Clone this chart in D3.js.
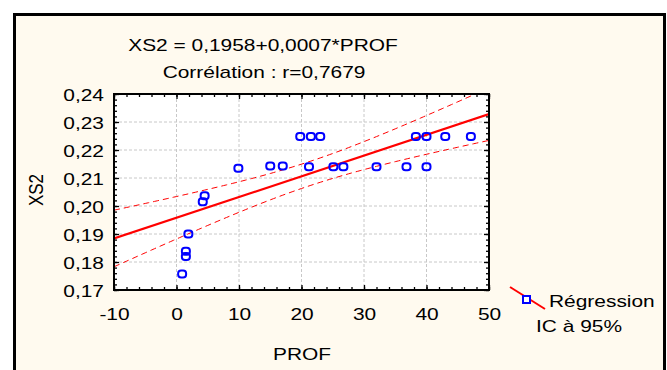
<!DOCTYPE html>
<html>
<head>
<meta charset="utf-8">
<script src="https://cdn.jsdelivr.net/npm/d3@7"></script>
<style>
  body { margin: 0; background: #ffffff; }
  svg { display: block; font-family: "Liberation Sans", Arial, sans-serif; }
</style>
</head>
<body>
<svg id="chart"></svg>
<script>
// data
const prof = [0.9, 1.5, 1.5, 1.9, 4.2, 4.5, 9.9, 15.0, 17.0, 19.8, 21.5, 23.0,
              21.2, 25.1, 26.7, 32.0, 36.8, 40.0, 38.3, 40.0, 43.0, 47.1];
const xs2 = [0.1757, 0.1820, 0.1838, 0.1900, 0.2015, 0.2037, 0.2135, 0.2143, 0.2143, 0.2248, 0.2248, 0.2248,
             0.2140, 0.2140, 0.2140, 0.2140, 0.2140, 0.2140, 0.2248, 0.2248, 0.2248, 0.2248];
const fitIntercept = 0.1958;
const fitSlope = 0.00074;
const xTicks = [-10, 0, 10, 20, 30, 40, 50];
const yTicks = [0.17, 0.18, 0.19, 0.20, 0.21, 0.22, 0.23, 0.24];
const titleLines = ["XS2 = 0,1958+0,0007*PROF", "Corrélation : r=0,7679"];
const legendLabels = ["Régression", "IC à 95%"];

const W = 667, H = 370;
const SX = 1.23; // the picture is stretched sideways
const FS = 17;
const svg = d3.select("#chart").attr("width", W).attr("height", H);

// outer panel
svg.append("rect").attr("x", 14.5).attr("y", 14.5).attr("width", 650).attr("height", 370)
  .attr("fill", "#fffaef").attr("stroke", "#000").attr("stroke-width", 3);

const plot = { left: 114, right: 489, top: 94, bottom: 290 };
const x = d3.scaleLinear().domain([-10, 50]).range([plot.left, plot.right]);
const y = d3.scaleLinear().domain([0.17, 0.24]).range([plot.bottom, plot.top]);

svg.append("rect").attr("x", plot.left).attr("y", plot.top)
  .attr("width", plot.right - plot.left).attr("height", plot.bottom - plot.top)
  .attr("fill", "#fff");

// grid
const grid = svg.append("g").attr("stroke", "#c8c8c8").attr("stroke-dasharray", "3,2");
grid.selectAll(".gx").data(xTicks.slice(1, -1)).enter().append("line")
  .attr("x1", d => x(d)).attr("x2", d => x(d)).attr("y1", plot.top).attr("y2", plot.bottom);
grid.selectAll(".gy").data(yTicks.slice(1, -1)).enter().append("line")
  .attr("x1", plot.left).attr("x2", plot.right).attr("y1", d => y(d)).attr("y2", d => y(d));

// regression and confidence band
const n = prof.length;
const xbar = d3.mean(prof), ybar = d3.mean(xs2);
const sxx = d3.sum(prof, v => (v - xbar) ** 2);
const sxy = d3.sum(prof, (v, i) => (v - xbar) * (xs2[i] - ybar));
const b = sxy / sxx, a = ybar - b * xbar;
const s = Math.sqrt(d3.sum(prof, (v, i) => (xs2[i] - a - b * v) ** 2) / (n - 2));
const tval = 2.086;
const half = v => tval * s * Math.sqrt(1 / n + (v - xbar) ** 2 / sxx);
const fit = v => fitIntercept + fitSlope * v;
const grid1 = d3.range(-10, 50.01, 0.5);

svg.append("clipPath").attr("id", "clip").append("rect")
  .attr("x", plot.left).attr("y", plot.top)
  .attr("width", plot.right - plot.left).attr("height", plot.bottom - plot.top);
const lines = svg.append("g").attr("clip-path", "url(#clip)").attr("fill", "none").attr("stroke", "#ff0000");
const line = d3.line().x(d => x(d[0])).y(d => y(d[1]));
lines.append("path").attr("stroke-dasharray", "6,4").attr("stroke-width", 1)
  .attr("d", line(grid1.map(v => [v, fit(v) + half(v)])));
lines.append("path").attr("stroke-dasharray", "6,4").attr("stroke-width", 1)
  .attr("d", line(grid1.map(v => [v, fit(v) - half(v)])));
lines.append("path").attr("stroke-width", 2.2)
  .attr("d", line([[-10, fit(-10)], [50, fit(50)]]));

// points
svg.append("g").selectAll("rect").data(prof).enter().append("rect")
  .attr("x", (d) => x(d) - 4).attr("y", (d, i) => y(xs2[i]) - 3.5)
  .attr("width", 8).attr("height", 7).attr("rx", 3)
  .attr("fill", "none").attr("stroke", "#0000ff").attr("stroke-width", 2);

// axes, ticks pointing inward on all sides
const xMinor = d3.range(-10, 50.01, 2);
const yMinor = d3.range(0.17, 0.2401, 0.002);
function styleAxis(g) {
  g.select(".domain").remove();
  g.selectAll("line").attr("stroke", "#000").attr("stroke-width", 1.3);
}
svg.append("g").attr("transform", `translate(0,${plot.bottom})`)
  .call(d3.axisBottom(x).tickValues(xMinor).tickSize(-3).tickFormat("")).call(styleAxis);
svg.append("g").attr("transform", `translate(0,${plot.top})`)
  .call(d3.axisTop(x).tickValues(xMinor).tickSize(-3).tickFormat("")).call(styleAxis);
svg.append("g").attr("transform", `translate(${plot.left},0)`)
  .call(d3.axisLeft(y).tickValues(yMinor).tickSize(-3).tickFormat("")).call(styleAxis);
svg.append("g").attr("transform", `translate(${plot.right},0)`)
  .call(d3.axisRight(y).tickValues(yMinor).tickSize(-3).tickFormat("")).call(styleAxis);

const fmtY = d => d3.format(".2f")(d).replace(".", ",");
const xAxis = svg.append("g").attr("transform", `translate(0,${plot.bottom})`)
  .call(d3.axisBottom(x).tickValues(xTicks).tickSize(-5).tickPadding(0).tickFormat(d => String(d)))
  .call(styleAxis);
xAxis.selectAll("text").attr("font-size", FS).attr("fill", "#000").attr("font-family", null)
  .attr("y", 30).attr("dy", null).attr("transform", `scale(${SX},1)`);
const yAxis = svg.append("g").attr("transform", `translate(${plot.left},0)`)
  .call(d3.axisLeft(y).tickValues(yTicks).tickSize(-5).tickFormat(fmtY)).call(styleAxis);
yAxis.selectAll("text").attr("font-size", FS).attr("fill", "#000").attr("font-family", null)
  .attr("x", -10 / SX).attr("dy", "0.36em").attr("transform", `scale(${SX},1)`);
svg.append("g").attr("transform", `translate(0,${plot.top})`)
  .call(d3.axisTop(x).tickValues(xTicks).tickSize(-5).tickFormat("")).call(styleAxis);
svg.append("g").attr("transform", `translate(${plot.right},0)`)
  .call(d3.axisRight(y).tickValues(yTicks).tickSize(-5).tickFormat("")).call(styleAxis);

// plot frame
svg.append("rect").attr("x", plot.left).attr("y", plot.top)
  .attr("width", plot.right - plot.left).attr("height", plot.bottom - plot.top)
  .attr("fill", "none").attr("stroke", "#000").attr("stroke-width", 2);

function label(txt, px, py, anchor, rot) {
  svg.append("g").attr("transform", `translate(${px},${py}) scale(${SX},1)` + (rot ? ` rotate(${rot})` : ""))
    .append("text").attr("text-anchor", anchor).attr("font-size", FS).text(txt);
}
label(titleLines[0], 263, 51, "middle");
label(titleLines[1], 264, 78, "middle");
label("PROF", 302, 360, "middle");
label("XS2", 43, 190, "middle", -90);

// legend
svg.append("line").attr("x1", 510).attr("y1", 287).attr("x2", 545).attr("y2", 309)
  .attr("stroke", "#ff0000").attr("stroke-width", 2);
svg.append("rect").attr("x", 523).attr("y", 296).attr("width", 7).attr("height", 7)
  .attr("fill", "#fff").attr("stroke", "#0000ff").attr("stroke-width", 2);
label(legendLabels[0], 549, 307, "start");
label(legendLabels[1], 536, 332, "start");
</script>
</body>
</html>
